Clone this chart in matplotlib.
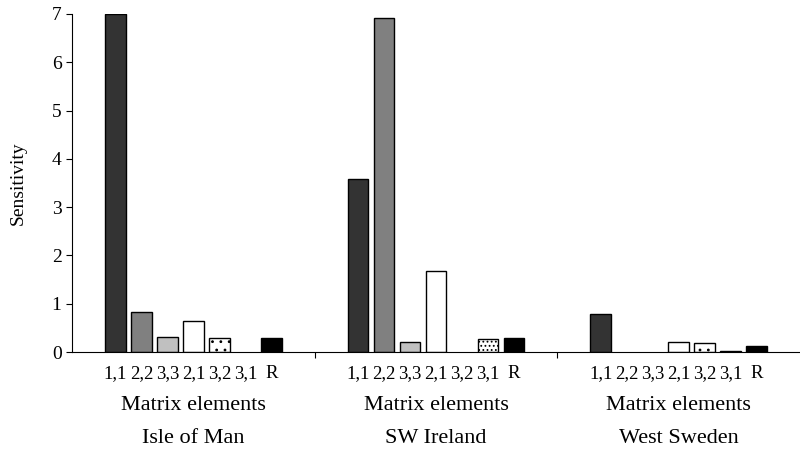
import matplotlib
matplotlib.use("Agg")
import matplotlib.pyplot as plt
import numpy as np

plt.rcParams['font.family'] = ['Liberation Serif', 'DejaVu Serif']
plt.rcParams['hatch.linewidth'] = 0.8

regions = ["Isle of Man", "SW Ireland", "West Sweden"]
elements = ["1,1", "2,2", "3,3", "2,1", "3,2", "3,1", "R"]
isle_of_man = [7.0, 0.82, 0.32, 0.65, 0.29, 0.0, 0.30]
sw_ireland = [3.58, 6.92, 0.21, 1.68, 0.0, 0.27, 0.30]
west_sweden = [0.78, 0.0, 0.0, 0.20, 0.18, 0.03, 0.12]
values = [isle_of_man, sw_ireland, west_sweden]

facecolors = ["#333333", "#808080", "#c0c0c0", "white", "white", "white", "black"]
hatches = [None, None, None, None, "..", "....", None]

fig = plt.figure(figsize=(8.0, 4.49), dpi=100)
ax = fig.add_axes([0.09, 0.216, 0.91, 0.753])

N = 243 / 26.0
for g, vals in enumerate(values):
    center = g * N + N / 2
    for j, v in enumerate(vals):
        x = center + (j - 3)
        if v <= 0:
            continue
        ax.bar(x, v, width=0.8, color=facecolors[j], edgecolor="black",
               linewidth=1.0, hatch=hatches[j])

    for j, lab in enumerate(elements):
        ax.text(center + (j - 3), -0.44, lab, ha="center", va="center", fontsize=13.5)
    ax.text(center, -1.10, "Matrix elements", ha="center", va="center", fontsize=16)
    ax.text(center, -1.79, regions[g], ha="center", va="center", fontsize=16)

ax.set_xlim(0, 3 * N)
ax.set_ylim(0, 7)
ax.set_yticks(range(8))
ax.tick_params(axis='y', labelsize=14, length=4, direction='out')
ax.set_xticks([N, 2 * N])
ax.set_xticklabels([])
ax.tick_params(axis='x', length=4, direction='out')
for s in ["top", "right"]:
    ax.spines[s].set_visible(False)
ax.set_ylabel("Sensitivity", fontsize=14, labelpad=18)

fig.savefig("out.png", dpi=100)
